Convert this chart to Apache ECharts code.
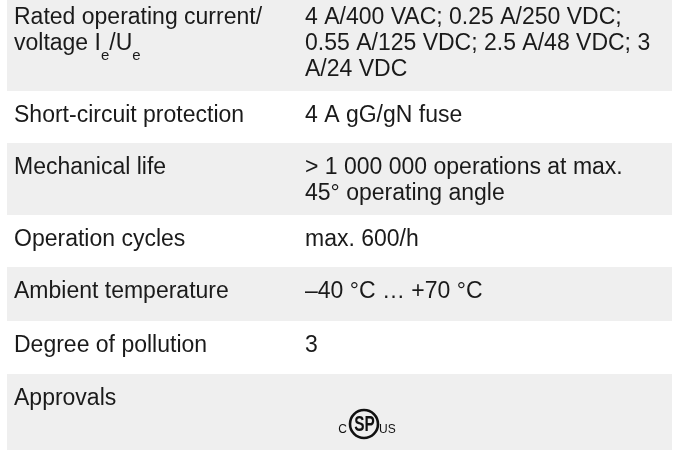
<!DOCTYPE html>
<html><head><meta charset="utf-8">
<script src="https://cdn.jsdelivr.net/npm/echarts@6/dist/echarts.min.js"></script>
<style>html,body{margin:0;padding:0;background:#fff}#c{width:687px;height:450px}</style>
</head><body><div id="c"></div>
<script>
// ---- data ----
const labels = [
  "Rated operating current/\nvoltage I{sub|e}/U{sub|e}",
  "Short-circuit protection",
  "Mechanical life",
  "Operation cycles",
  "Ambient temperature",
  "Degree of pollution",
  "Approvals"
];
const values = [
  "4 A/400 VAC; 0.25 A/250 VDC;\n0.55 A/125 VDC; 2.5 A/48 VDC; 3\nA/24 VDC",
  "4 A gG/gN fuse",
  "> 1 000 000 operations at max.\n45° operating angle",
  "max. 600/h",
  "–40 °C … +70 °C",
  "3",
  ""
];
const approvalMark = ["C", "SP", "US"]; // cCSAus mark in the Approvals row

// ---- layout (not data) ----
const ROW_EDGES = [-7, 91, 143, 215, 267, 321, 374, 450];
const BAND_X0 = 7, BAND_X1 = 672;
const COL1_X = 14, COL2_X = 305;
const LINE_H = 26, FONT = 23, TEXT_PAD = 12;
const FAMILY = '"Liberation Sans", Arial, sans-serif';
const INK = '#1a1a1a';

const chart = echarts.init(document.getElementById('c'), null, {renderer: 'canvas'});
const rows = labels.map((l, i) => [i]);

function textEl(x, y, text) {
  return {
    type: 'text', x: x, y: y,
    style: {
      text: text, fill: INK, fontSize: FONT, fontFamily: FAMILY,
      lineHeight: LINE_H, align: 'left', verticalAlign: 'top',
      rich: {
        sub: {fontSize: 15, lineHeight: LINE_H, height: 2, verticalAlign: 'bottom', fill: INK, fontFamily: FAMILY}
      }
    }
  };
}

chart.setOption({
  animation: false,
  grid: {left: 0, right: 0, top: 0, bottom: 0},
  xAxis: {type: 'value', min: 0, max: 687, show: false},
  yAxis: {type: 'value', min: 0, max: 450, inverse: true, show: false},
  series: [{
    type: 'custom',
    coordinateSystem: 'cartesian2d',
    data: rows,
    clip: false,
    renderItem: function (params, api) {
      const i = api.value(0);
      const top = ROW_EDGES[i], bottom = ROW_EDGES[i + 1];
      const p0 = api.coord([BAND_X0, top]);
      const p1 = api.coord([BAND_X1, bottom]);
      const c1 = api.coord([COL1_X, top]);
      const c2 = api.coord([COL2_X, top]);
      const children = [];
      if (i % 2 === 0) {
        children.push({type: 'rect', shape: {x: p0[0], y: p0[1], width: p1[0] - p0[0], height: p1[1] - p0[1]},
          style: {fill: '#efefef'}});
      }
      children.push(textEl(c1[0], c1[1] + TEXT_PAD, labels[i]));
      if (values[i]) children.push(textEl(c2[0], c2[1] + TEXT_PAD, values[i]));
      if (labels[i] === 'Approvals') {
        const cc = api.coord([364, 424]);
        children.push({type: 'circle', shape: {cx: cc[0], cy: cc[1], r: 14},
          style: {fill: 'none', stroke: '#111', lineWidth: 2.6}});
        children.push({type: 'text', x: cc[0] - 17, y: cc[1] + 12,
          style: {text: approvalMark[0], fontSize: 12, fontFamily: FAMILY, fill: '#111', align: 'right', verticalAlign: 'bottom'}});
        children.push({type: 'text', x: cc[0] + 0.5, y: cc[1] + 1, scaleX: 0.7,
          style: {text: approvalMark[1], fontSize: 22, fontWeight: 'bold', fontFamily: FAMILY, fill: '#111', align: 'center', verticalAlign: 'middle'}});
        children.push({type: 'text', x: cc[0] + 15, y: cc[1] + 12,
          style: {text: approvalMark[2], fontSize: 12, fontFamily: FAMILY, fill: '#111', align: 'left', verticalAlign: 'bottom'}});
      }
      return {type: 'group', children: children};
    }
  }]
});
</script></body></html>
